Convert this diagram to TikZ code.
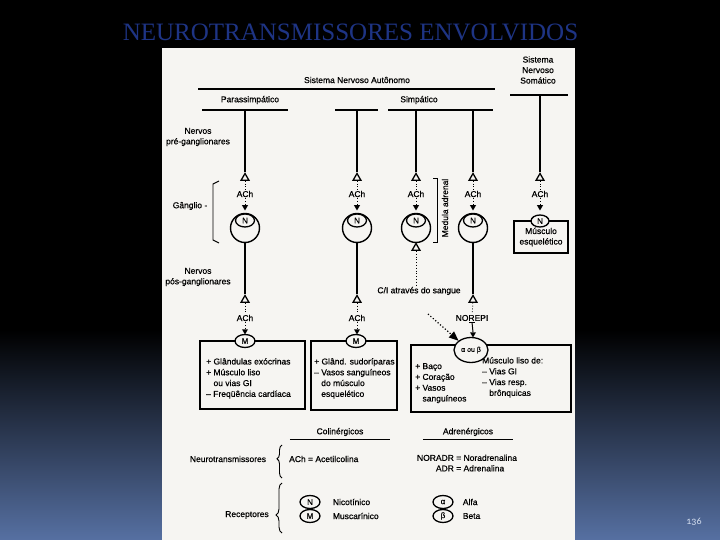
\documentclass[tikz,border=0pt]{standalone}
\usepackage{fontspec}
\setmainfont{Liberation Sans}[FakeBold=0.5]
\newfontfamily\titlefont{Liberation Serif}
\newfontfamily\numfont[Numbers=OldStyle]{Carlito}
\usepackage{tikz}
\usetikzlibrary{shapes.geometric, arrows, positioning, decorations.pathreplacing}
\definecolor{titleblue}{RGB}{30,52,132}
\definecolor{slideblue}{RGB}{86,112,162}
\definecolor{scanwhite}{RGB}{246,245,242}
\definecolor{pagenum}{RGB}{214,224,240}
\tikzstyle{txt} = [inner sep=1pt, font=\fontsize{8.5}{10.5}\selectfont, text centered]
\tikzstyle{boxtxt} = [inner sep=0pt, font=\fontsize{8.5}{10.8}\selectfont, align=left, anchor=north west]
\tikzstyle{bar} = [rectangle, fill=black, inner sep=0pt, minimum height=2.6pt]
\tikzstyle{terminal} = [regular polygon, regular polygon sides=3, draw=black, line width=1.3pt, fill=scanwhite, minimum size=9pt, inner sep=0pt]
\tikzstyle{release} = [regular polygon, regular polygon sides=3, shape border rotate=180, fill=black, minimum size=7pt, inner sep=0pt]
\tikzstyle{neuron} = [circle, draw=black, line width=1.4pt, minimum size=29pt, inner sep=0pt]
\tikzstyle{receptor} = [ellipse, draw=black, line width=1.3pt, fill=scanwhite, minimum width=20pt, minimum height=13pt, inner sep=0pt, font=\fontsize{8}{9}\selectfont]
\tikzstyle{organ} = [rectangle, draw=black, line width=1.5pt]
\tikzstyle{nerve} = [line width=1.6pt]
\tikzstyle{cleft} = [dotted, line width=0.8pt]
\tikzstyle{bracket} = [line width=0.9pt]
\tikzstyle{arrow} = [dotted, line width=1.2pt, ->, >=triangle 45]

\begin{document}
\begin{tikzpicture}[x=1pt, y=-1pt]
\fill [black] (0,0) rectangle (720,332);
\shade [top color=black, bottom color=slideblue] (0,330) rectangle (720,540);
\useasboundingbox (0,0) rectangle (720,540);

\node (title) [font=\titlefont\fontsize{25}{28}\selectfont, text=titleblue, inner sep=0pt] at (350.5,32.5) {NEUROTRANSMISSORES ENVOLVIDOS};
\fill [scanwhite] (162,48) rectangle (575,540);

\node (sna) [txt] at (357,80) {Sistema Nervoso Autônomo};
\node (snaBar) [bar, minimum width=297pt] at (346.5,89) {};
\node (sns) [txt, align=center] at (538,70) {Sistema\\Nervoso\\Somático};
\node (snsBar) [bar, minimum width=58pt] at (539,95) {};
\node (ps) [txt] at (250,100) {Parassimpático};
\node (psBar) [bar, minimum width=86pt, minimum height=2pt] at (245,110) {};
\node (simp) [txt] at (419,100) {Simpático};
\node (simpBarA) [bar, minimum width=43pt, minimum height=2pt] at (356.5,110) {};
\node (simpBarB) [bar, minimum width=105pt, minimum height=2pt] at (440.5,110) {};

\node (pre) [txt, align=center] at (198,137) {Nervos\\pré-ganglionares};
\node (gang) [txt] at (190,206) {Gânglio -};
\node (pos) [txt, align=center] at (198,277) {Nervos\\pós-ganglionares};
\node (medula) [txt, rotate=90] at (445,208) {Medula adrenal};
\draw [bracket] (219,181) -- (213,184) -- (213,240) -- (219,243);
\draw [bracket] (433,178) -- (437,178) -- (437,242) -- (433,242);

\node (tp1) [terminal] at (245,178) {};
\node (tp2) [terminal] at (357,178) {};
\node (tp3) [terminal] at (416,178) {};
\node (tp4) [terminal] at (473,178) {};
\node (tp5) [terminal] at (540,178) {};
\node (ach1) [txt] at (245,194) {ACh};
\node (ach2) [txt] at (357,194) {ACh};
\node (ach3) [txt] at (416,194) {ACh};
\node (ach4) [txt] at (473,194) {ACh};
\node (ach5) [txt] at (540,194) {ACh};
\node (r1) [release] at (245,207) {};
\node (r2) [release] at (357,207) {};
\node (r3) [release] at (416,207) {};
\node (r4) [release] at (473,207) {};
\node (r5) [release] at (540,207) {};
\node (n1) [neuron] at (245,228) {};
\node (n2) [neuron] at (357,228) {};
\node (n3) [neuron] at (416,228) {};
\node (n4) [neuron] at (473,228) {};
\node (nr1) [receptor, minimum width=19pt, minimum height=13pt] at (245,220.5) {N};
\node (nr2) [receptor, minimum width=19pt, minimum height=13pt] at (357,220.5) {N};
\node (nr3) [receptor, minimum width=19pt, minimum height=13pt] at (416,220.5) {N};
\node (nr4) [receptor, minimum width=19pt, minimum height=13pt] at (473,220.5) {N};
\node (musc) [organ, txt, align=center, minimum width=54pt, minimum height=32pt] at (541,237) {Músculo\\esquelético};
\node (nr5) [receptor, minimum width=18pt, minimum height=12pt] at (540,221) {N};

\draw [nerve] (tp1 |- psBar.south) -- (tp1.north);
\draw [nerve] (tp2 |- simpBarA.south) -- (tp2.north);
\draw [nerve] (tp3 |- simpBarB.south) -- (tp3.north);
\draw [nerve] (tp4 |- simpBarB.south) -- (tp4.north);
\draw [nerve] (tp5 |- snsBar.south) -- (tp5.north);
\draw [cleft] (tp1) -- (ach1) -- (r1);
\draw [cleft] (tp2) -- (ach2) -- (r2);
\draw [cleft] (tp3) -- (ach3) -- (r3);
\draw [cleft] (tp4) -- (ach4) -- (r4);
\draw [cleft] (tp5) -- (ach5) -- (r5);

\node (tq1) [terminal] at (245,300) {};
\node (tq2) [terminal] at (357,300) {};
\node (tq3) [terminal] at (416,248) {};
\node (tq4) [terminal] at (473,300) {};
\node (achq1) [txt] at (245,318) {ACh};
\node (achq2) [txt] at (357,318) {ACh};
\node (norepi) [txt] at (472,318) {NOREPI};
\node (rq1) [release] at (245,331) {};
\node (rq2) [release] at (357,331) {};
\node (rq4) [release] at (473,334) {};
\node (blood) [txt] at (419,291) {C/I através do sangue};
\coordinate (bloodOut) at (428,314);

\draw [nerve] (n1.south) -- (tq1.north);
\draw [nerve] (n2.south) -- (tq2.north);
\draw [nerve] (n4.south) -- (tq4.north);
\draw [cleft] (tq1) -- (achq1) -- (rq1);
\draw [cleft] (tq2) -- (achq2) -- (rq2);
\draw [cleft] (tq4) -- (norepi);
\draw [line width=1pt] (norepi.south) -- (rq4.north);
\draw [line width=1pt] ([xshift=-3pt]norepi.south) -- ([xshift=3pt]norepi.south);
\draw [cleft] (tq3.south) -- (tq3.south |- blood.north);

\node (box1) [organ, minimum width=105pt, minimum height=68pt] at (252.5,375) {};
\node (box2) [organ, minimum width=86pt, minimum height=69pt] at (354,375.5) {};
\node (box3) [organ, minimum width=160pt, minimum height=67pt] at (491,378.5) {};
\node (box1txt) [boxtxt] at (206,358) {+ Glândulas exócrinas\\+ Músculo liso\\\phantom{+ }ou vias GI\\– Freqüência cardíaca};
\node (box2txt) [boxtxt] at (314,358) {+ Glând. sudoríparas\\– Vasos sanguíneos\\\phantom{– }do músculo\\\phantom{– }esquelético};
\node (box3left) [boxtxt] at (415,363) {+ Baço\\+ Coração\\+ Vasos\\\phantom{+ }sanguíneos};
\node (box3right) [boxtxt] at (482,357) {Músculo liso de:\\– Vias GI\\– Vias resp.\\\phantom{– }brônquicas};
\node (m1) [receptor] at (245,341) {M};
\node (m2) [receptor] at (356,341) {M};
\node (abRec) [receptor, minimum width=34pt, minimum height=25pt, font=\fontsize{7}{8}\selectfont] at (471,350) {α ou β};
\draw [arrow] (bloodOut) -- (abRec.north west);

\node (col) [txt, minimum width=100pt, inner ysep=3pt] at (340,432) {Colinérgicos};
\node (adr) [txt, minimum width=90pt, inner ysep=3pt] at (468,432) {Adrenérgicos};
\draw [line width=1pt] (col.south west) -- (col.south east);
\draw [line width=1pt] (adr.south west) -- (adr.south east);

\node (ntLbl) [txt] at (228,459) {Neurotransmissores};
\node (achDef) [txt, anchor=west] at (288,459) {ACh = Acetilcolina};
\node (adrDef) [txt] at (467,464) {\begin{tabular}{@{}r@{ = }l@{}}NORADR & Noradrenalina\\ADR & Adrenalina\end{tabular}};
\draw [bracket, decorate, decoration={brace, amplitude=5pt, aspect=0.58}] (282,478) -- (282,445);

\node (recLbl) [txt] at (247,515) {Receptores};
\draw [bracket, decorate, decoration={brace, amplitude=6pt, aspect=0.36}] (282,533) -- (282,483);
\node (nicRec) [receptor] at (310,502) {N};
\node (nicTxt) [txt, right=11pt of nicRec] {Nicotínico};
\node (musRec) [receptor] at (310,516) {M};
\node (musTxt) [txt, right=11pt of musRec] {Muscarínico};
\node (alfRec) [receptor] at (443,502) {α};
\node (alfTxt) [txt, right=8pt of alfRec] {Alfa};
\node (betRec) [receptor] at (443,516) {β};
\node (betTxt) [txt, right=8pt of betRec] {Beta};

\node (pg) [font=\numfont\fontsize{10}{12}\selectfont, text=pagenum] at (694,522) {136};
\end{tikzpicture}
\end{document}
